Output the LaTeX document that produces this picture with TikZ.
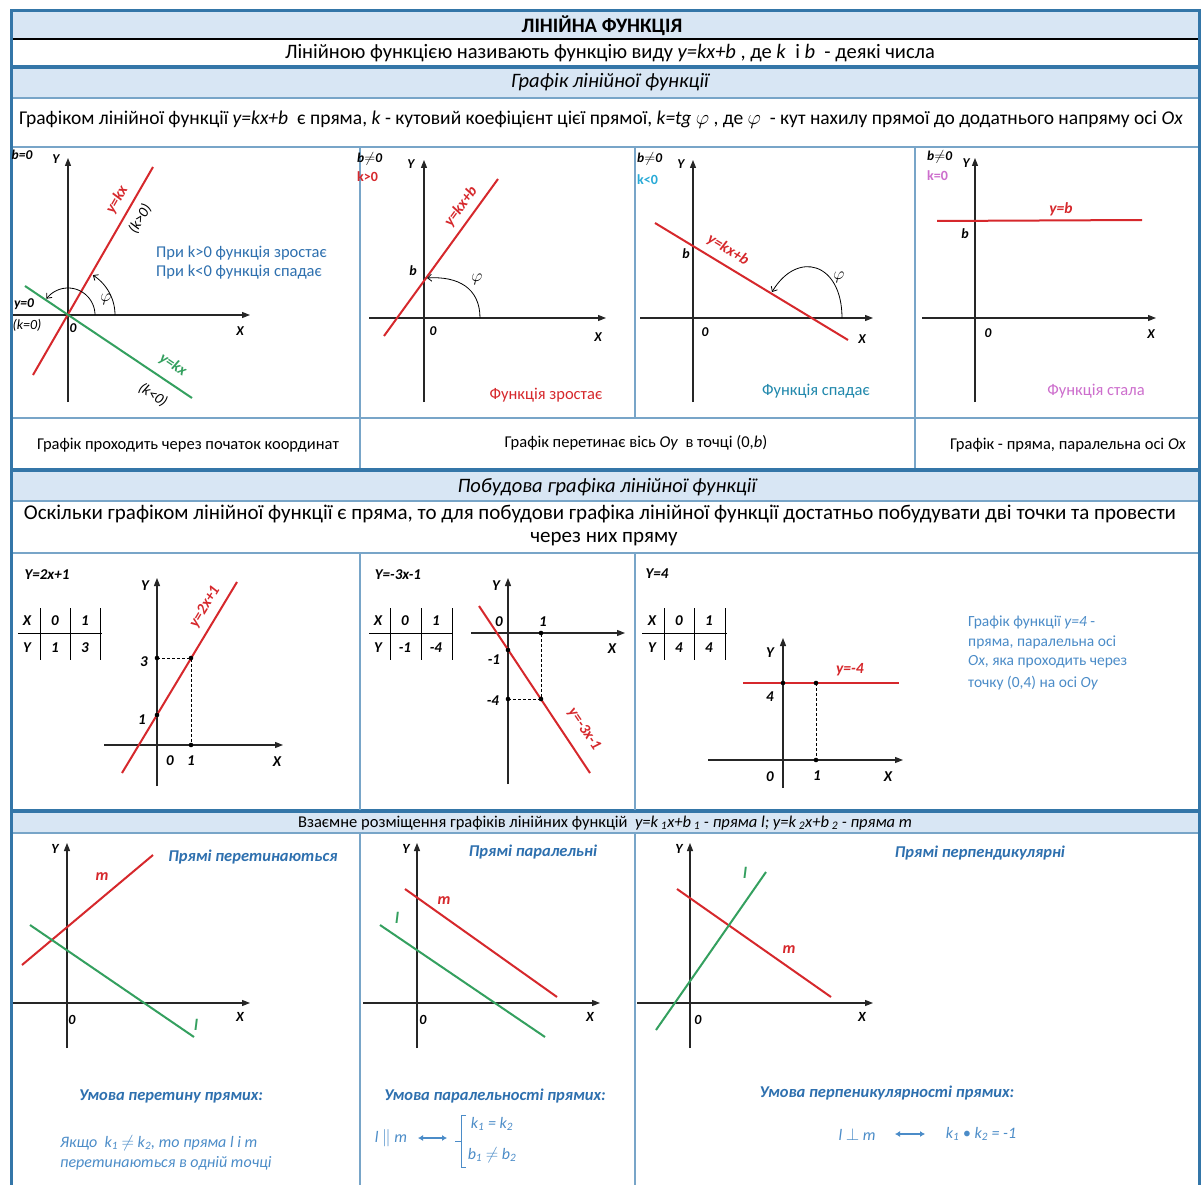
\documentclass[tikz,border=0pt]{standalone}
\usepackage{fontspec}
\setmainfont{Carlito}
\usetikzlibrary{arrows.meta}
\definecolor{hdrblue}{RGB}{216,230,244}
\definecolor{frameblue}{RGB}{52,118,168}
\definecolor{gridblue}{RGB}{120,165,200}
\definecolor{redc}{RGB}{214,40,44}
\definecolor{greenc}{RGB}{52,160,95}
\definecolor{txtblue}{RGB}{46,112,175}
\definecolor{ltblue}{RGB}{75,140,200}
\definecolor{cyanc}{RGB}{40,170,215}
\definecolor{pinkc}{RGB}{205,110,205}
\tikzset{
  fnt/.style={font=\fontsize{#1}{#1}\selectfont},
  fntb/.style={font=\fontsize{#1}{#1}\selectfont\bfseries},
  fnti/.style={font=\fontsize{#1}{#1}\selectfont\itshape},
  fntbi/.style={font=\fontsize{#1}{#1}\selectfont\bfseries\itshape},
  axisline/.style={draw=black!85, line width=1.1pt, -{Triangle[length=8pt,width=6pt]}},
  redln/.style={draw=redc, line width=2pt},
  greenln/.style={draw=greenc, line width=2pt},
  arcarr/.style={draw=black, line width=0.8pt, -{Straight Barb[length=4pt,width=7pt]}},
  dashln/.style={draw=black, line width=0.8pt, dash pattern=on 3pt off 2pt},
  tabln/.style={draw=black, line width=0.9pt},
  thinrule/.style={draw=gridblue, line width=1.2pt},
  thickrule/.style={draw=frameblue, line width=3.5pt},
  dblarr/.style={draw=ltblue, line width=1.8pt, {Latex[length=5pt,width=6pt]}-{Latex[length=5pt,width=6pt]}},
}
\begin{document}
\begin{tikzpicture}[x=1pt,y=-1pt, every node/.append style={inner sep=0pt}]
\useasboundingbox (0,0) rectangle (1203,1185);
\fill[white] (0,0) rectangle (1203,1185);
% ---------- bands ----------
\fill[hdrblue] (11,12) rectangle (1199,38);
\fill[hdrblue] (11,69) rectangle (1199,98);
\fill[hdrblue] (11,472) rectangle (1199,501);
\fill[hdrblue] (11,813) rectangle (1199,833);
\draw[black, line width=2pt] (11,39) -- (1199,39);
\draw[thickrule] (11,67) -- (1199,67);
\draw[thinrule] (11,98) -- (1199,98);
\draw[thinrule] (11,147) -- (1199,147);
\draw[thinrule] (11,418) -- (1199,418);
\draw[thickrule] (11,470) -- (1199,470);
\draw[thinrule] (11,501) -- (1199,501);
\draw[thinrule] (11,553) -- (1199,553);
\draw[thickrule] (11,811) -- (1199,811);
\draw[thinrule] (11,833) -- (1199,833);
\draw[thinrule] (360,147) -- (360,468) (635,147) -- (635,418) (915,147) -- (915,468);
\draw[thinrule] (360,553) -- (360,810) (635,553) -- (635,810);
\draw[thinrule] (360,833) -- (360,1190) (635,833) -- (635,1190);
\draw[frameblue, line width=3pt] (11,1190) -- (11,11) -- (1199,11) -- (1199,1190);
% ---------- header texts ----------
\node[fntb=20.5] (title) at (602,26) {ЛІНІЙНА ФУНКЦІЯ};
\node[fnt=20.5] (defn) at (610,53) {Лінійною функцією називають функцію виду \textit{y=kx+b} , де \textit{k}\ \ і \textit{b}\ \ - деякі числа};
\node[fnti=20.5] (sec1) at (610,82) {Графік лінійної функції};
\node[fnt=19.5] (gdesc) at (601,120) {Графіком лінійної функції \textit{y=kx+b}\ \ є пряма, \textit{k} - кутовий коефіцієнт цієї прямої, \textit{k=tg $\varphi$} , де \textit{$\varphi$}\ \ - кут нахилу прямої до додатнього напряму осі \textit{Ox}};
% ---------- panel 1 ----------
\node[fntbi=13.5] (p1b) at (22,155) {b=0};
\draw[axisline] (68,402) -- (68,158);
\node[fntbi=13.5] (p1Y) at (56,159) {Y};
\draw[axisline] (13,315) -- (250,315);
\node[fntbi=13.5] (p1X) at (240,331) {X};
\node[fntbi=13.5] (p1o) at (73,328) {0};
\draw[redln] (33,375) -- (153,167);
\draw[greenln] (25,286) -- (192,398);
\node[fntbi=15.5, text=redc, rotate=60] (p1r) at (117,200) {y=kx};
\node[fnti=15, rotate=60] (p1kp) at (140,219) {(k>0)};
\node[fntbi=15.5, text=greenc, rotate=-34] (p1g) at (173,365) {y=kx};
\node[fnti=15, rotate=-34] (p1kn) at (153,395) {(k<0)};
\node[fntbi=13.5] (p1y0) at (24,304) {y=0};
\node[fnti=14] (p1k0) at (27,325) {(k=0)};
\draw[arcarr] plot[domain=0:58,samples=25] ({68+47*cos(\x)},{315-47*sin(\x)});
\draw[arcarr] plot[domain=0:143,samples=30] ({68+27*cos(\x)},{315-27*sin(\x)});
\node[fnti=16] (p1phi) at (106,299) {$\varphi$};
\node[fnt=16.5, text=txtblue, anchor=west] (p1t1) at (156,253) {При k>0 функція зростає};
\node[fnt=16.5, text=txtblue, anchor=west] (p1t2) at (156,272) {При k<0 функція спадає};
% ---------- panel 2 ----------
\node[fntbi=13.5, anchor=west] (p2b) at (357,159) {b$\neq$0};
\node[fntb=14, text=redc, anchor=west] (p2k) at (357,177) {k>0};
\draw[axisline] (424,402) -- (424,160);
\node[fntbi=13.5] (p2Y) at (411,164) {Y};
\draw[axisline] (369,318) -- (606,318);
\node[fntbi=13.5] (p2X) at (598,337) {X};
\node[fntbi=13.5] (p2o) at (433,331) {0};
\draw[redln] (384,336) -- (498,179);
\node[fntbi=14] (p2bb) at (413,271) {b};
\draw[arcarr] (480,318) .. controls (480,288) and (458,276) .. (427,278);
\node[fnti=16] (p2phi) at (477,279) {$\varphi$};
\node[fntbi=15.5, text=redc, rotate=54] (p2lab) at (461,207) {y=kx+b};
\node[fnt=16.5, text=redc] (p2f) at (546,395) {Функція зростає};
% ---------- panel 3 ----------
\node[fntbi=13.5, anchor=west] (p3b) at (637,159) {b$\neq$0};
\node[fntb=14, text=cyanc, anchor=west] (p3k) at (637,180) {k<0};
\draw[axisline] (693,402) -- (693,160);
\node[fntbi=13.5] (p3Y) at (681,164) {Y};
\draw[axisline] (640,318) -- (873,318);
\node[fntbi=13.5] (p3X) at (862,339) {X};
\node[fntbi=13.5] (p3o) at (705,332) {0};
\draw[redln] (655,223) -- (848,340);
\node[fntbi=14] (p3bb) at (686,254) {b};
\node[fntbi=15.5, text=redc, rotate=-31] (p3lab) at (728,250) {y=kx+b};
\draw[arcarr] (842,318) .. controls (842,262) and (797,250) .. (772,292);
\node[fnti=16] (p3phi) at (839,277) {$\varphi$};
\node[fnt=16.5, text=cyanc!80!black] (p3f) at (816,391) {Функція спадає};
% ---------- panel 4 ----------
\node[fntbi=13.5, anchor=west] (p4b) at (927,157) {b$\neq$0};
\node[fntb=14, text=pinkc, anchor=west] (p4k) at (927,176) {k=0};
\draw[axisline] (975,402) -- (975,158);
\node[fntbi=13.5] (p4Y) at (966,163) {Y};
\draw[axisline] (922,318) -- (1156,318);
\node[fntbi=13.5] (p4X) at (1151,334) {X};
\node[fntbi=13.5] (p4o) at (988,333) {0};
\draw[redln] (937,221) -- (1142,220);
\node[fntbi=15.5, text=redc] (p4lab) at (1061,209) {y=b};
\node[fntbi=14] (p4bb) at (965,234) {b};
\node[fnt=16.5, text=pinkc] (p4f) at (1096,391) {Функція стала};
% ---------- captions ----------
\node[fnt=16.5] (c1) at (188,445) {Графік проходить через початок координат};
\node[fnt=16.5] (c2) at (636,443) {Графік перетинає вісь \textit{Oy}\ \ в точці (0,\textit{b})};
\node[fnt=16.5] (c3) at (1068,445) {Графік - пряма, паралельна осі \textit{Ox}};
% ---------- section 2 ----------
\node[fnti=20.5] (sec2) at (607,487) {Побудова графіка лінійної функції};
\node[fnt=21] (s2a) at (600,514) {Оскільки графіком лінійної функції є пряма, то для побудови графіка лінійної функції достатньо побудувати дві точки та провести};
\node[fnt=21] (s2b) at (604,539) {через них пряму};
% panel A
\node[fntbi=15] (aeq) at (47,575) {Y=2x+1};
\node[fntbi=15] (atx) at (27,621) {X};
\node[fntbi=15] (at0) at (55,621) {0};
\node[fntbi=15] (at1) at (85,621) {1};
\node[fntbi=15] (aty) at (27,648) {Y};
\node[fntbi=15] (aty1) at (55,648) {1};
\node[fntbi=15] (aty3) at (85,648) {3};
\draw[tabln] (18,633) -- (102,633) (40,608) -- (40,660) (70,608) -- (70,660) (100,608) -- (100,660);
\draw[axisline] (157,786) -- (157,578);
\node[fntbi=15] (aY) at (145,586) {Y};
\draw[axisline] (104,745) -- (283,745);
\node[fntbi=15] (aX) at (277,762) {X};
\node[fntbi=15] (ao) at (170,761) {0};
\node[fntbi=15] (a1) at (191,761) {1};
\draw[redln] (122,773) -- (237,582);
\draw[dashln] (157,658) -- (191,658) -- (191,745);
\fill (157,715) circle[radius=2.3pt] (157,658) circle[radius=2.3pt] (191,658) circle[radius=2.3pt] (191,745) circle[radius=2.3pt];
\node[fntbi=15] (a3l) at (144,662) {3};
\node[fntbi=15] (a1l) at (142,720) {1};
\node[fntbi=15.5, text=redc, rotate=59] (alab) at (205,607) {y=2x+1};
% panel B
\node[fntbi=15] (beq) at (398,575) {Y=-3x-1};
\node[fntbi=15] (btx) at (378,621) {X};
\node[fntbi=15] (bt0) at (405,621) {0};
\node[fntbi=15] (bt1) at (436,621) {1};
\node[fntbi=15] (bty) at (378,648) {Y};
\node[fntbi=15] (btym1) at (405,648) {-1};
\node[fntbi=15] (btym4) at (436,648) {-4};
\draw[tabln] (369,633) -- (452,633) (390,608) -- (390,660) (421,608) -- (421,660) (452,608) -- (452,660);
\draw[axisline] (508,784) -- (508,578);
\node[fntbi=15] (bY) at (496,586) {Y};
\draw[axisline] (471,633) -- (625,633);
\node[fntbi=15] (bX) at (612,649) {X};
\node[fntbi=15] (bo) at (499,622) {0};
\node[fntbi=15] (b1) at (543,622) {1};
\draw[redln] (479,606) -- (590,773);
\draw[dashln] (508,699) -- (541,699) -- (541,633);
\fill (508,650) circle[radius=2.3pt] (508,699) circle[radius=2.3pt] (541,699) circle[radius=2.3pt] (541,633) circle[radius=2.3pt];
\node[fntbi=15] (bm1) at (494,660) {-1};
\node[fntbi=15] (bm4) at (493,701) {-4};
\node[fntbi=15.5, text=redc, rotate=-56] (blab) at (584,729) {y=-3x-1};
% panel C
\node[fntbi=15] (ceq) at (657,574) {Y=4};
\node[fntbi=15] (ctx) at (652,621) {X};
\node[fntbi=15] (ct0) at (679,621) {0};
\node[fntbi=15] (ct1) at (709,621) {1};
\node[fntbi=15] (cty) at (652,648) {Y};
\node[fntbi=15] (cty4) at (679,648) {4};
\node[fntbi=15] (cty4b) at (709,648) {4};
\draw[tabln] (642,633) -- (727,633) (664,608) -- (664,660) (694,608) -- (694,660) (725,608) -- (725,660);
\draw[axisline] (783,788) -- (783,638);
\node[fntbi=15] (cY) at (770,653) {Y};
\draw[axisline] (708,760) -- (903,760);
\node[fntbi=15] (cX) at (888,777) {X};
\node[fntbi=15] (co) at (770,777) {0};
\node[fntbi=15] (c1n) at (817,776) {1};
\draw[redln] (743,683) -- (899,683);
\draw[dashln] (816,683) -- (816,760);
\fill (783,683) circle[radius=2.3pt] (816,683) circle[radius=2.3pt] (816,760) circle[radius=2.3pt];
\node[fntbi=15] (c4) at (770,697) {4};
\node[fntbi=15.5, text=redc] (clab) at (850,670) {y=-4};
\node[fnt=15.5, text=ltblue, anchor=west] (ct1l) at (968,622) {Графік функції \textit{y=4} -};
\node[fnt=15.5, text=ltblue, anchor=west] (ct2l) at (968,642) {пряма, паралельна осі};
\node[fnt=15.5, text=ltblue, anchor=west] (ct3l) at (968,662) {\textit{Ox}, яка проходить через};
\node[fnt=15.5, text=ltblue, anchor=west] (ct4l) at (968,683) {точку (0,4) на осі \textit{Oy}};
% ---------- section 3 ----------
\node[fnt=16.5] (sec3) at (605,823) {Взаємне розміщення графіків лінійних функцій\ \ \textit{y=k\,\textsubscript{1}x+b\,\textsubscript{1} - пряма l; y=k\,\textsubscript{2}x+b\,\textsubscript{2} - пряма m}};
% P1
\draw[axisline] (67,1048) -- (67,843);
\node[fntbi=14] (q1Y) at (55,849) {Y};
\draw[axisline] (13,1003) -- (250,1003);
\node[fntbi=14] (q1X) at (240,1017) {X};
\node[fntbi=14] (q1o) at (72,1020) {0};
\draw[redln] (22,965) -- (153,855);
\draw[greenln] (30,925) -- (194,1037);
\node[fntbi=16, text=redc] (q1m) at (102,877) {m};
\node[fntbi=16, text=greenc] (q1l) at (196,1025) {l};
\node[fntbi=16.5, text=txtblue] (q1h) at (253,857) {Прямі перетинаються};
\node[fntbi=16.5, text=txtblue] (q1c) at (171,1096) {Умова перетину прямих:};
\node[fnti=16, text=ltblue, anchor=west] (q1t1) at (60,1143) {Якщо\ \ k\textsubscript{1} $\neq$ k\textsubscript{2}, то пряма l і m};
\node[fnti=16, text=ltblue, anchor=west] (q1t2) at (60,1163) {перетинаються в одній точці};
% P2
\draw[axisline] (417,1048) -- (417,843);
\node[fntbi=14] (q2Y) at (406,849) {Y};
\draw[axisline] (363,1003) -- (600,1003);
\node[fntbi=14] (q2X) at (590,1017) {X};
\node[fntbi=14] (q2o) at (423,1020) {0};
\draw[redln] (405,889) -- (557,997);
\draw[greenln] (380,925) -- (545,1037);
\node[fntbi=16, text=redc] (q2m) at (444,901) {m};
\node[fntbi=16, text=greenc] (q2l) at (397,918) {l};
\node[fntbi=16.5, text=txtblue] (q2h) at (533,852) {Прямі паралельні};
\node[fntbi=16.5, text=txtblue] (q2c) at (495,1096) {Умова паралельності прямих:};
\node[fnti=16, text=ltblue] (q2lm) at (391,1138) {l $\parallel$ m};
\coordinate (q2a1) at (418,1138);
\coordinate (q2a2) at (447,1138);
\draw[dblarr] (q2a1) -- (q2a2);
\draw[ltblue, line width=0.9pt] (466,1115) -- (461,1115) -- (461,1167) -- (466,1167) (455,1141) -- (461,1141);
\node[fnti=16, text=ltblue] (q2k) at (492,1124) {k\textsubscript{1} = k\textsubscript{2}};
\node[fnti=16, text=ltblue] (q2bb) at (492,1155) {b\textsubscript{1} $\neq$ b\textsubscript{2}};
% P3
\draw[axisline] (690,1048) -- (690,843);
\node[fntbi=14] (q3Y) at (679,849) {Y};
\draw[axisline] (637,1003) -- (873,1003);
\node[fntbi=14] (q3X) at (862,1017) {X};
\node[fntbi=14] (q3o) at (698,1020) {0};
\draw[redln] (677,889) -- (831,997);
\draw[greenln] (656,1030) -- (766,872);
\node[fntbi=16, text=redc] (q3m) at (789,950) {m};
\node[fntbi=16, text=greenc] (q3l) at (745,873) {l};
\node[fntbi=16.5, text=txtblue] (q3h) at (980,853) {Прямі перпендикулярні};
\node[fntbi=16.5, text=txtblue] (q3c) at (887,1093) {Умова перпеникулярності прямих:};
\node[fnti=16, text=ltblue] (q3lm) at (857,1134) {l $\perp$ m};
\coordinate (q3a1) at (895,1134);
\coordinate (q3a2) at (925,1134);
\draw[dblarr] (q3a1) -- (q3a2);
\node[fnti=16, text=ltblue] (q3k) at (981,1134) {k\textsubscript{1} \textbullet\ k\textsubscript{2} = -1};
\end{tikzpicture}
\end{document}
